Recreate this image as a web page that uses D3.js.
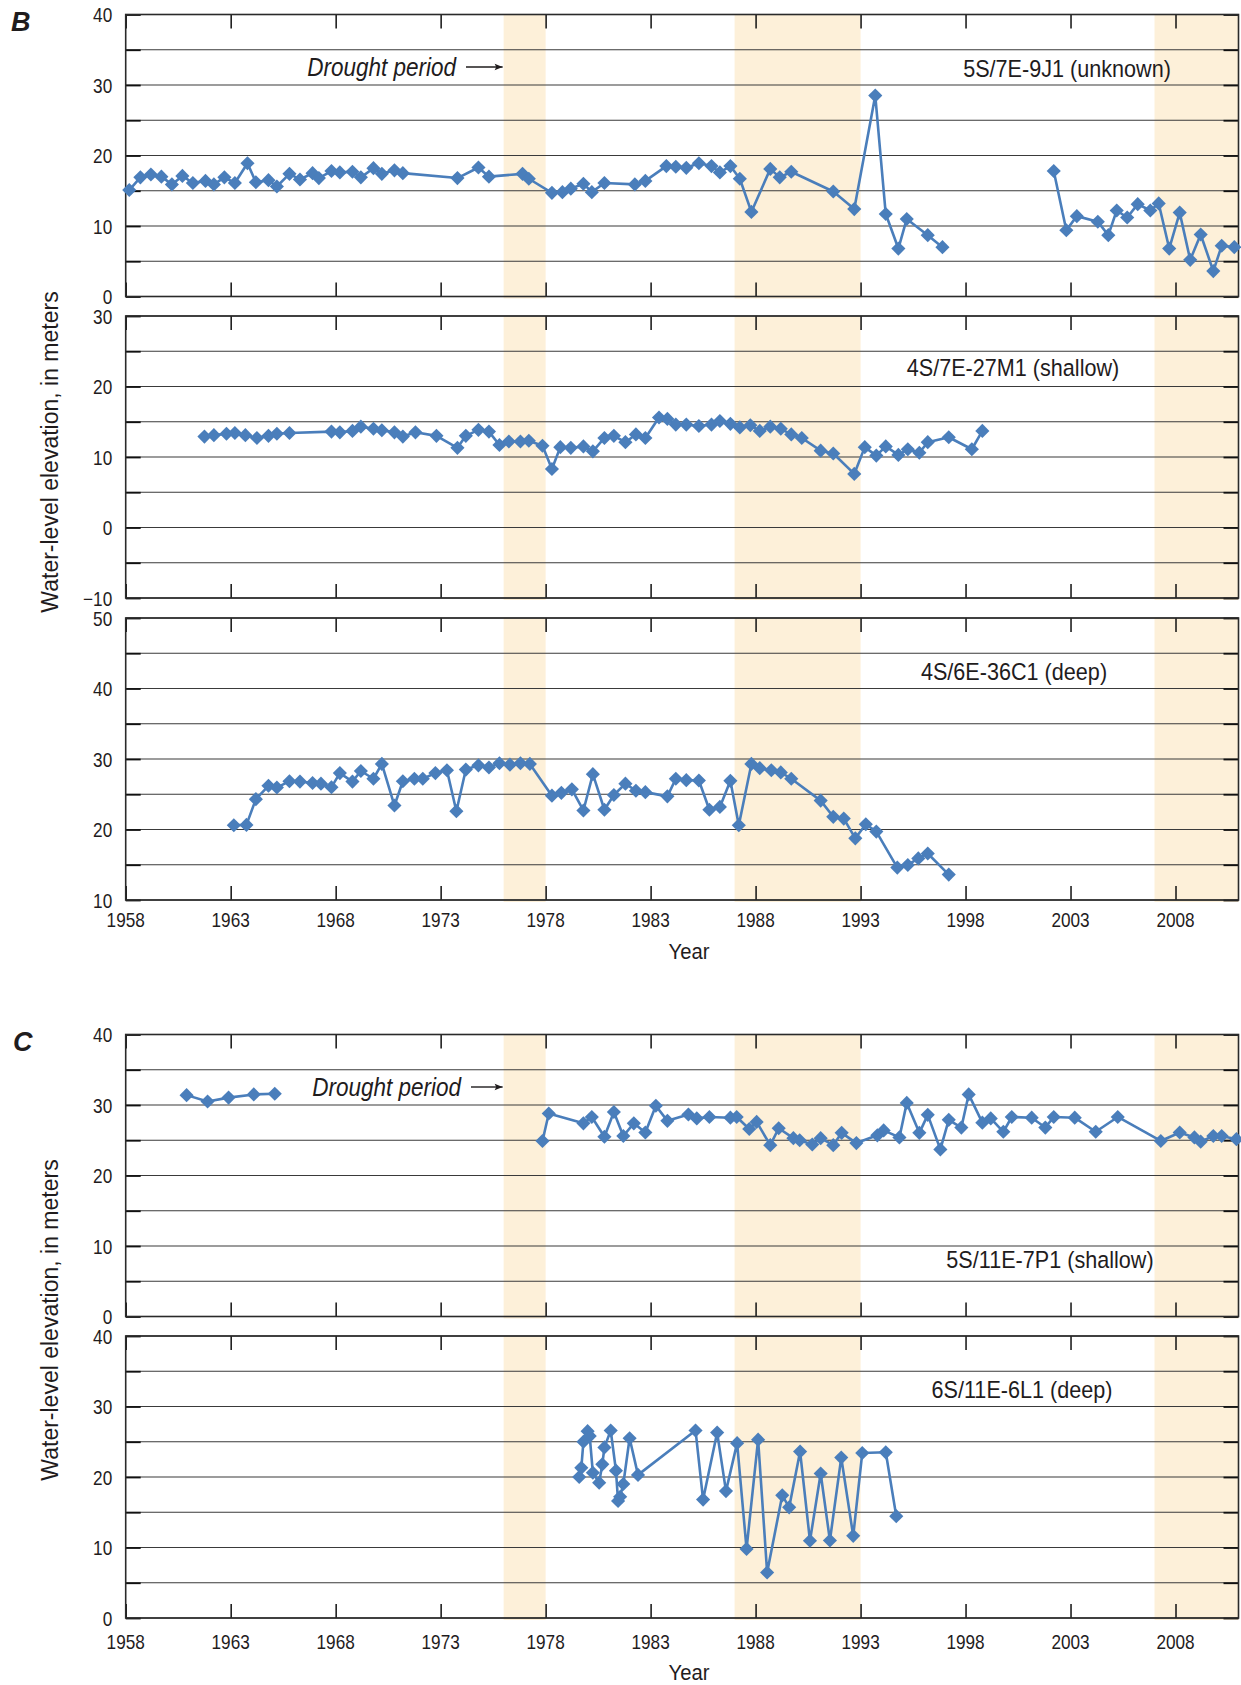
<!DOCTYPE html>
<html>
<head>
<meta charset="utf-8">
<script src="https://cdn.jsdelivr.net/npm/d3@7"></script>
<style>
  body { margin: 0; background: #fff; }
  svg { display: block; }
</style>
</head>
<body>
<svg id="chart" width="1241" height="1685"></svg>
<script>
// ---------------- DATA ----------------
const yearTicks = [1958, 1963, 1968, 1973, 1978, 1983, 1988, 1993, 1998, 2003, 2008];
const droughtStart = [1976, 1987, 2007];
const droughtEnd   = [1978, 1993, 2011];

// B: 5S/7E-9J1 (unknown)   (null = gap in record)
const b1Years = [1958.17,1958.7,1959.2,1959.7,1960.2,1960.7,1961.2,1961.8,1962.2,1962.7,1963.2,1963.8,1964.2,1964.8,1965.2,1965.8,1966.3,1966.9,1967.2,1967.8,1968.2,1968.8,1969.2,1969.8,1970.2,1970.8,1971.2,1973.8,1974.8,1975.3,1976.9,1977.2,1978.3,1978.8,1979.2,1979.8,1980.2,1980.8,1982.25,1982.75,1983.75,1984.2,1984.7,1985.3,1985.9,1986.3,1986.8,1987.25,1987.8,1988.7,1989.15,1989.7,1991.7,1992.7,1993.7,1994.2,1994.8,1995.2,1996.2,1996.9,1999.5,2002.2,2002.8,2003.3,2004.3,2004.8,2005.2,2005.7,2006.2,2006.8,2007.2,2007.7,2008.2,2008.7,2009.2,2009.8,2010.2,2010.8];
const b1Values = [15.1,16.9,17.3,17.0,15.9,17.1,16.1,16.4,15.9,16.9,16.1,18.9,16.2,16.5,15.6,17.4,16.6,17.5,16.8,17.8,17.6,17.7,16.9,18.2,17.4,17.9,17.5,16.8,18.3,17.0,17.4,16.7,14.7,14.8,15.3,16.0,14.8,16.1,15.9,16.4,18.5,18.4,18.25,18.9,18.5,17.6,18.5,16.7,12.0,18.1,16.9,17.7,14.9,12.4,28.5,11.7,6.8,11.0,8.7,7.0,null,17.8,9.4,11.4,10.6,8.7,12.2,11.2,13.1,12.2,13.2,6.8,11.9,5.2,8.8,3.6,7.2,7.0];

// B: 4S/7E-27M1 (shallow)
const b2Years = [1961.75,1962.2,1962.8,1963.2,1963.7,1964.25,1964.8,1965.2,1965.8,1967.8,1968.2,1968.8,1969.2,1969.8,1970.2,1970.8,1971.2,1971.8,1972.8,1973.8,1974.2,1974.8,1975.3,1975.8,1976.25,1976.8,1977.2,1977.85,1978.3,1978.7,1979.2,1979.8,1980.25,1980.8,1981.25,1981.8,1982.3,1982.75,1983.4,1983.8,1984.2,1984.7,1985.3,1985.9,1986.3,1986.8,1987.25,1987.75,1988.2,1988.7,1989.2,1989.7,1990.2,1991.1,1991.7,1992.7,1993.2,1993.75,1994.2,1994.8,1995.25,1995.8,1996.2,1997.2,1998.3,1998.8];
const b2Values = [12.9,13.1,13.3,13.4,13.1,12.7,13.0,13.3,13.4,13.6,13.5,13.7,14.3,14.0,13.8,13.5,12.9,13.5,13.0,11.3,13.0,13.85,13.6,11.7,12.2,12.2,12.3,11.6,8.3,11.4,11.3,11.5,10.8,12.7,13.0,12.1,13.2,12.7,15.6,15.4,14.6,14.6,14.4,14.6,15.1,14.7,14.2,14.5,13.7,14.3,14.0,13.2,12.7,10.9,10.5,7.6,11.4,10.2,11.5,10.3,11.1,10.6,12.1,12.8,11.1,13.7];

// B: 4S/6E-36C1 (deep)
const b3Years = [1963.15,1963.75,1964.2,1964.8,1965.2,1965.8,1966.3,1966.9,1967.3,1967.8,1968.2,1968.8,1969.2,1969.8,1970.2,1970.8,1971.2,1971.75,1972.15,1972.75,1973.3,1973.75,1974.2,1974.8,1975.3,1975.8,1976.3,1976.8,1977.25,1978.3,1978.75,1979.25,1979.8,1980.25,1980.8,1981.25,1981.8,1982.3,1982.75,1983.8,1984.2,1984.7,1985.3,1985.8,1986.3,1986.8,1987.2,1987.8,1988.2,1988.75,1989.2,1989.7,1991.1,1991.7,1992.2,1992.75,1993.25,1993.75,1994.75,1995.25,1995.75,1996.2,1997.2];
const b3Values = [20.6,20.65,24.3,26.2,25.95,26.85,26.8,26.6,26.5,26.0,28.0,26.8,28.3,27.2,29.3,23.4,26.85,27.2,27.2,28.0,28.4,22.6,28.5,29.1,28.8,29.4,29.2,29.4,29.3,24.8,25.2,25.7,22.7,27.85,22.8,24.9,26.5,25.5,25.3,24.7,27.2,27.0,26.95,22.8,23.2,26.9,20.6,29.3,28.7,28.4,28.1,27.2,24.1,21.8,21.55,18.75,20.75,19.7,14.6,14.97,15.9,16.6,13.6];

// C: 5S/11E-7P1 (shallow)
const c1Years = [1960.9,1961.9,1962.9,1964.1,1965.1,1971.5,1977.85,1978.15,1979.8,1980.2,1980.8,1981.25,1981.7,1982.2,1982.75,1983.25,1983.8,1984.8,1985.2,1985.8,1986.8,1987.1,1987.7,1988.05,1988.7,1989.1,1989.8,1990.1,1990.7,1991.1,1991.7,1992.1,1992.8,1993.8,1994.1,1994.85,1995.2,1995.8,1996.2,1996.8,1997.2,1997.8,1998.15,1998.8,1999.2,1999.8,2000.2,2001.15,2001.8,2002.2,2003.2,2004.2,2005.25,2007.3,2008.2,2008.9,2009.2,2009.8,2010.2,2010.9];
const c1Values = [31.4,30.5,31.05,31.5,31.6,null,24.9,28.8,27.4,28.3,25.5,29.0,25.6,27.4,26.1,29.9,27.75,28.65,28.1,28.3,28.2,28.3,26.6,27.6,24.3,26.7,25.3,25.0,24.4,25.3,24.3,26.05,24.6,25.7,26.4,25.4,30.3,26.05,28.6,23.7,27.9,26.8,31.5,27.5,28.1,26.2,28.3,28.2,26.8,28.3,28.2,26.2,28.3,24.9,26.1,25.4,24.8,25.6,25.6,25.15];

// C: 6S/11E-6L1 (deep)
const c2Years = [1979.6,1979.7,1979.8,1980.0,1980.1,1980.25,1980.55,1980.7,1980.8,1981.1,1981.35,1981.45,1981.55,1981.7,1982.0,1982.4,1985.14,1985.5,1986.17,1986.59,1987.12,1987.57,1988.12,1988.55,1989.27,1989.6,1990.12,1990.59,1991.1,1991.54,1992.08,1992.65,1993.08,1994.2,1994.7];
const c2Values = [20.0,21.3,25.0,26.5,25.8,20.6,19.2,21.8,24.2,26.6,20.9,16.6,17.2,19.0,25.5,20.3,26.6,16.8,26.3,18.0,24.8,9.8,25.3,6.45,17.4,15.7,23.6,10.95,20.5,11.0,22.75,11.65,23.4,23.5,14.45];

// ---------------- LAYOUT ----------------
const svg = d3.select('#chart');
const plotLeft = 125.7, plotRight = 1238.5, PH = 282;
const BLUE = '#4A7EBB', SHADE = '#FDF0D9', INK = '#1f1c1d';
const FONT = "'Liberation Sans', Arial, Helvetica, sans-serif";
const SX = 0.86;   // horizontal condensing of text

const x = d3.scaleLinear().domain([1958, 2011]).range([plotLeft, plotRight]);

const panels = [
  { top: 14.5, domain: [0, 40], years: b1Years, values: b1Values, label: '5S/7E-9J1 (unknown)', lx: 1067, ly: 69, drought: { end: 456, y: 67 } },
  { top: 316,  domain: [-10, 30], years: b2Years, values: b2Values, label: '4S/7E-27M1 (shallow)', lx: 1013, ly: 368 },
  { top: 618,  domain: [10, 50], years: b3Years, values: b3Values, label: '4S/6E-36C1 (deep)', lx: 1014, ly: 671.5, xlab: { y: 919.5, title: 951 } },
  { top: 1034.5, domain: [0, 40], years: c1Years, values: c1Values, label: '5S/11E-7P1 (shallow)', lx: 1050, ly: 1260, drought: { end: 461, y: 1087 } },
  { top: 1336, domain: [0, 40], years: c2Years, values: c2Values, label: '6S/11E-6L1 (deep)', lx: 1022, ly: 1390, xlab: { y: 1641.5, title: 1671.5 } }
];

function ctext(parent, tx, ty, str, size, opts = {}) {
  return parent.append('text')
    .attr('transform', `translate(${tx},${ty}) scale(${opts.sx ?? SX},1)`)
    .attr('font-family', FONT)
    .attr('font-size', size)
    .attr('font-style', opts.italic ? 'italic' : 'normal')
    .attr('font-weight', opts.bold ? 'bold' : 'normal')
    .attr('text-anchor', opts.anchor || 'middle')
    .attr('fill', INK)
    .text(str);
}

svg.append('defs').append('marker')
  .attr('id', 'arrow').attr('viewBox', '0 0 10 10')
  .attr('refX', 10).attr('refY', 5)
  .attr('markerWidth', 11).attr('markerHeight', 8)
  .attr('markerUnits', 'userSpaceOnUse')
  .attr('orient', 'auto')
  .append('path').attr('d', 'M0,1 L10,5 L0,9 L2,5 Z').attr('fill', INK);

const fmt = d3.format('');

panels.forEach(p => {
  const y = d3.scaleLinear().domain(p.domain).range([p.top + PH, p.top]);
  const g = svg.append('g');
  const fives = d3.range(p.domain[0], p.domain[1] + 0.001, 5);

  // drought shading
  g.selectAll('rect.dr').data(d3.zip(droughtStart, droughtEnd)).join('rect')
    .attr('class', 'dr')
    .attr('x', d => x(d[0])).attr('width', d => x(d[1]) - x(d[0]))
    .attr('y', p.top).attr('height', PH + 2)
    .attr('fill', SHADE);

  // gridlines
  g.selectAll('line.grid').data(fives).join('line')
    .attr('class', 'grid')
    .attr('x1', plotLeft).attr('x2', plotRight)
    .attr('y1', d => y(d)).attr('y2', d => y(d))
    .attr('stroke', '#3a3a3a').attr('stroke-width', 1.2);

  // y axis (left) with inner ticks and labels
  const yl = g.append('g').attr('transform', `translate(${plotLeft},0)`)
    .call(d3.axisLeft(y).tickValues(fives).tickSizeInner(-15).tickSizeOuter(0).tickPadding(13.5)
      .tickFormat(d => d % 10 === 0 ? fmt(d) : ''));
  yl.select('.domain').remove();
  yl.selectAll('line').attr('stroke', '#111').attr('stroke-width', 1.8);
  yl.selectAll('text')
    .attr('font-family', FONT).attr('font-size', 20).attr('fill', INK)
    .attr('x', -13.5 / SX).attr('dy', '0.36em')
    .attr('transform', `scale(${SX},1)`);

  // y axis (right) inner ticks
  const yr = g.append('g').attr('transform', `translate(${plotRight},0)`)
    .call(d3.axisRight(y).tickValues(fives).tickSizeInner(-15).tickSizeOuter(0).tickFormat(''));
  yr.select('.domain').remove();
  yr.selectAll('line').attr('stroke', '#111').attr('stroke-width', 1.8);

  // x axis ticks (top & bottom, inward)
  const xt = g.append('g').attr('transform', `translate(0,${p.top})`)
    .call(d3.axisTop(x).tickValues(yearTicks).tickSizeInner(-14).tickSizeOuter(0).tickFormat(''));
  xt.select('.domain').remove();
  xt.selectAll('line').attr('stroke', '#111').attr('stroke-width', 1.5);

  const xb = g.append('g').attr('transform', `translate(0,${p.top + PH})`)
    .call(d3.axisBottom(x).tickValues(yearTicks).tickSizeInner(-14).tickSizeOuter(0).tickFormat(''));
  xb.select('.domain').remove();
  xb.selectAll('line').attr('stroke', '#111').attr('stroke-width', 1.5);

  if (p.xlab) {
    yearTicks.forEach(t => ctext(svg, x(t), p.xlab.y + 7.2, String(t), 20));
    ctext(svg, 689, p.xlab.title + 8, 'Year', 22.5, { sx: 0.9 });
  }

  // frame
  g.append('rect')
    .attr('x', plotLeft).attr('y', p.top)
    .attr('width', plotRight - plotLeft).attr('height', PH)
    .attr('fill', 'none').attr('stroke', '#2a2a2a').attr('stroke-width', 1.6);

  // series
  const pts = p.years.map((t, i) => ({ t, v: p.values[i] }));
  const line = d3.line().defined(d => d.v != null).x(d => x(d.t)).y(d => y(d.v));
  g.append('path').datum(pts)
    .attr('d', line).attr('fill', 'none')
    .attr('stroke', BLUE).attr('stroke-width', 2.6).attr('stroke-linejoin', 'round');

  const sym = d3.symbol(d3.symbolSquare, 100);
  g.selectAll('path.pt').data(pts.filter(d => d.v != null)).join('path')
    .attr('class', 'pt')
    .attr('d', sym)
    .attr('transform', d => `translate(${x(d.t)},${y(d.v)}) rotate(45)`)
    .attr('fill', BLUE);

  // well label
  ctext(svg, p.lx, p.ly + 8.3, p.label, 23.5, { sx: 0.92 });

  // drought annotation
  if (p.drought) {
    ctext(svg, p.drought.end, p.drought.y + 8.5, 'Drought period', 25, { italic: true, anchor: 'end', sx: 0.9 });
    svg.append('line')
      .attr('x1', p.drought.end + 10).attr('x2', x(droughtStart[0]) - 1)
      .attr('y1', p.drought.y).attr('y2', p.drought.y)
      .attr('stroke', INK).attr('stroke-width', 1.4)
      .attr('marker-end', 'url(#arrow)');
  }
});

// section letters
ctext(svg, 11, 30.5, 'B', 27, { bold: true, italic: true, anchor: 'start', sx: 1 });
ctext(svg, 13, 1050.5, 'C', 27, { bold: true, italic: true, anchor: 'start', sx: 1 });

// y-axis titles
[452, 1320].forEach(cy => {
  svg.append('text')
    .attr('transform', `translate(58,${cy}) rotate(-90)`)
    .attr('font-family', FONT).attr('font-size', 23)
    .attr('text-anchor', 'middle').attr('fill', INK)
    .text('Water-level elevation, in meters');
});
</script>
</body>
</html>
